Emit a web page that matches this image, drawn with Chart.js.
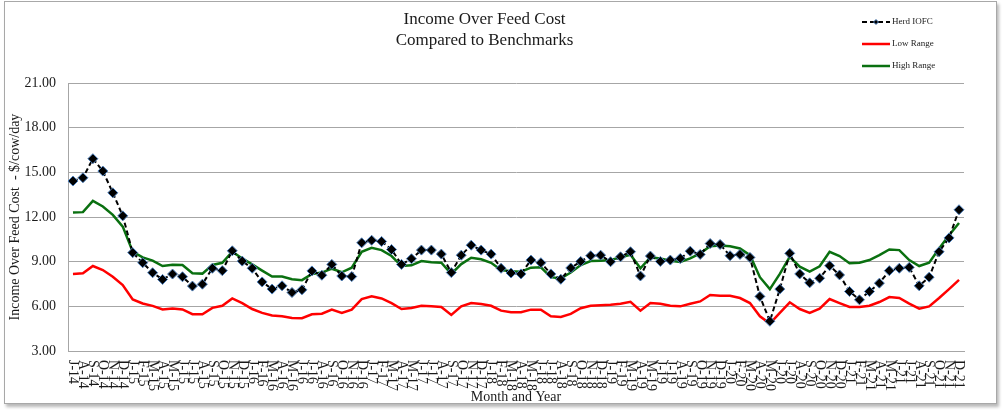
<!DOCTYPE html>
<html>
<head>
<meta charset="utf-8">
<script src="https://cdn.jsdelivr.net/npm/chart.js@4/dist/chart.umd.min.js"></script>
<style>
  html, body { margin: 0; padding: 0; background: #fff; }
  #frame {
    position: absolute; left: 4px; top: 1px;
    width: 991px; height: 401px;
    border: 1px solid #a8a8a8;
    box-shadow: 2px 3px 3px rgba(0,0,0,0.28);
    background: #fff;
  }
  #c { display: block; }
</style>
</head>
<body>
<div id="frame"><canvas id="c" width="991" height="401"></canvas></div>
<script>
const monthLetters = ['J','F','M','A','M','J','J','A','S','O','N','D'];
const categories = [];
for (let y = 14; y <= 21; y++) {
  for (let m = (y === 14 ? 6 : 0); m < 12; m++) categories.push(monthLetters[m] + '-' + y);
}

const herdIOFC = [
  14.42,14.64,15.92,15.09,13.63,12.08,9.61,8.93,8.26,7.81,8.17,7.99,7.36,7.49,8.56,
  8.40,9.73,9.04,8.56,7.64,7.16,7.38,6.93,7.11,8.38,8.09,8.82,8.04,8.00,10.27,
  10.44,10.36,9.82,8.82,9.20,9.78,9.78,9.51,8.27,9.44,10.11,9.78,9.51,8.56,8.24,
  8.18,9.11,8.93,8.18,7.82,8.58,9.02,9.40,9.44,9.00,9.33,9.67,8.04,9.38,9.02,
  9.11,9.22,9.71,9.49,10.22,10.16,9.40,9.49,9.29,6.67,5.00,7.16,9.56,8.18,7.58,
  7.89,8.73,8.11,7.00,6.44,7.00,7.56,8.40,8.56,8.62,7.38,7.96,9.67,10.60,12.49
];
const lowRange = [
  8.17,8.22,8.71,8.44,7.99,7.43,6.46,6.19,6.03,5.79,5.86,5.79,5.47,5.47,5.90,
  6.04,6.53,6.22,5.82,5.56,5.38,5.33,5.22,5.20,5.47,5.51,5.78,5.56,5.78,6.49,
  6.67,6.53,6.22,5.82,5.89,6.04,6.00,5.96,5.42,6.00,6.22,6.16,6.04,5.71,5.60,
  5.60,5.78,5.78,5.33,5.29,5.49,5.87,6.04,6.07,6.11,6.18,6.31,5.71,6.22,6.18,
  6.04,6.00,6.18,6.33,6.76,6.71,6.71,6.56,6.22,5.33,4.84,5.56,6.27,5.82,5.56,
  5.84,6.49,6.22,5.96,5.96,6.04,6.29,6.62,6.56,6.18,5.84,6.00,6.56,7.16,7.78
];
const highRange = [
  12.30,12.33,13.09,12.71,12.15,11.36,9.67,9.29,9.07,8.71,8.80,8.78,8.22,8.20,8.78,
  8.93,9.67,9.22,8.82,8.40,8.00,8.00,7.82,7.76,8.18,8.27,8.53,8.29,8.60,9.67,
  9.93,9.78,9.38,8.71,8.76,9.04,8.96,8.93,8.18,8.84,9.27,9.16,8.93,8.44,8.36,
  8.33,8.60,8.62,7.96,7.87,8.27,8.78,9.04,9.07,9.11,9.29,9.47,8.56,9.29,9.22,
  9.07,8.98,9.22,9.56,10.04,10.09,10.04,9.89,9.44,7.96,7.16,8.18,9.33,8.67,8.33,
  8.69,9.67,9.38,8.89,8.93,9.11,9.44,9.82,9.78,9.11,8.71,8.93,9.89,10.78,11.60
];
const yTicks = [3, 6, 9, 12, 15, 18, 21];

const SERIF = '"Liberation Serif", "Times New Roman", "DejaVu Serif", serif';

// Draw x tick labels rotated clockwise (top-to-bottom), as in the reference
const xLabelPlugin = {
  id: 'xLabels',
  afterDraw(chart) {
    const ctx = chart.ctx;
    const xs = chart.scales.x;
    const top = chart.chartArea.bottom + 9;
    ctx.save();
    ctx.font = '14px ' + SERIF;
    ctx.fillStyle = '#1a1a1a';
    ctx.textAlign = 'left';
    ctx.textBaseline = 'middle';
    chart.data.labels.forEach((lab, i) => {
      const x = xs.getPixelForValue(i);
      ctx.save();
      ctx.translate(x, top);
      ctx.rotate(Math.PI / 2);
      ctx.fillText(lab, 0, 0);
      ctx.restore();
    });
    ctx.restore();
  }
};

// Legend in the top-right corner, stacked vertically
const legendPlugin = {
  id: 'cornerLegend',
  afterDraw(chart) {
    const ctx = chart.ctx;
    const x0 = 857, x1 = 885, tx = 887;
    const ys = [20, 42, 64];
    ctx.save();
    chart.data.datasets.forEach((ds, i) => {
      const y = ys[i];
      ctx.beginPath();
      ctx.strokeStyle = ds.borderColor;
      ctx.lineWidth = ds.borderWidth;
      ctx.setLineDash(ds.borderDash || []);
      ctx.moveTo(x0, y); ctx.lineTo(x1, y);
      ctx.stroke();
      ctx.setLineDash([]);
      if (ds.pointRadius) {
        const cx = (x0 + x1) / 2, r = 2.5;
        ctx.beginPath();
        ctx.moveTo(cx - r, y); ctx.lineTo(cx, y - r); ctx.lineTo(cx + r, y); ctx.lineTo(cx, y + r);
        ctx.closePath();
        ctx.fillStyle = ds.pointBackgroundColor;
        ctx.fill();
        ctx.strokeStyle = ds.pointBorderColor;
        ctx.lineWidth = 1;
        ctx.stroke();
      }
      ctx.font = '9px ' + SERIF;
      ctx.fillStyle = '#222';
      ctx.textAlign = 'left';
      ctx.textBaseline = 'middle';
      ctx.fillText(ds.label, tx, y);
    });
    ctx.restore();
  }
};

new Chart(document.getElementById('c'), {
  type: 'line',
  data: {
    labels: categories,
    datasets: [
      {
        label: 'Herd IOFC',
        data: herdIOFC,
        borderColor: '#000000',
        borderWidth: 2,
        borderDash: [5, 3],
        pointStyle: 'rectRot',
        pointRadius: 5,
        pointHoverRadius: 5,
        pointBackgroundColor: '#000000',
        pointBorderColor: '#4f81bd',
        pointBorderWidth: 1,
        tension: 0,
        order: 0
      },
      {
        label: 'Low Range',
        data: lowRange,
        borderColor: '#ff0000',
        borderWidth: 2.5,
        pointRadius: 0,
        tension: 0,
        order: 2
      },
      {
        label: 'High Range',
        data: highRange,
        borderColor: '#0a7010',
        borderWidth: 2.5,
        pointRadius: 0,
        tension: 0,
        order: 1
      }
    ]
  },
  options: {
    responsive: false,
    animation: false,
    devicePixelRatio: 1,
    layout: { padding: { left: 0, right: 32, top: 0, bottom: 0 } },
    plugins: {
      legend: { display: false },
      tooltip: { enabled: false },
      title: {
        display: true,
        text: ['Income Over Feed Cost', 'Compared to Benchmarks'],
        color: '#1a1a1a',
        font: { family: SERIF, size: 17, weight: 'normal', lineHeight: 1.18 },
        padding: { top: 8, bottom: 33 }
      }
    },
    scales: {
      x: {
        type: 'category',
        offset: true,
        grid: { display: false, drawTicks: false },
        border: { display: true, color: '#a6a6a6', width: 1 },
        ticks: { display: false },
        title: {
          display: true,
          text: 'Month and Year',
          color: '#1a1a1a',
          font: { family: SERIF, size: 14, weight: 'normal' },
          padding: { top: 0, bottom: -3 }
        },
        afterFit(s) { s.height = 52; }
      },
      y: {
        min: 3,
        max: 21,
        afterBuildTicks(s) { s.ticks = yTicks.map(v => ({ value: v })); },
        grid: { color: '#a6a6a6', lineWidth: 1, drawTicks: false },
        border: { display: true, color: '#a6a6a6', width: 1 },
        ticks: {
          padding: 12,
          color: '#1a1a1a',
          font: { family: SERIF, size: 14 },
          callback: v => Number(v).toFixed(2)
        },
        title: {
          display: true,
          text: 'Income Over Feed Cost  - $/cow/day',
          color: '#1a1a1a',
          font: { family: SERIF, size: 14, weight: 'normal' },
          padding: { top: 2, bottom: 0 }
        },
        afterFit(s) { s.width = 63; }
      }
    }
  },
  plugins: [xLabelPlugin, legendPlugin]
});
</script>
</body>
</html>
